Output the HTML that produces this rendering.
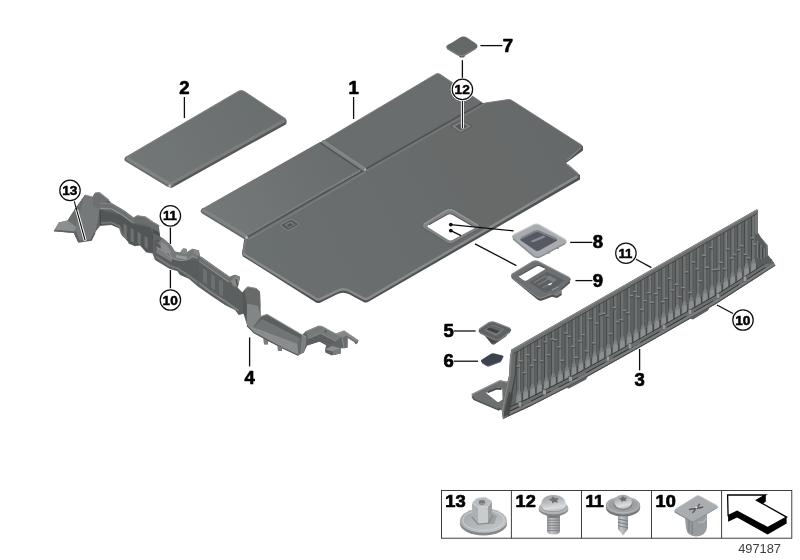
<!DOCTYPE html>
<html lang="en">
<head>
<meta charset="utf-8">
<title>Trunk floor panel parts diagram 497187</title>
<style>
html,body{margin:0;padding:0;background:#fff;}
body{width:800px;height:560px;overflow:hidden;font-family:"Liberation Sans",sans-serif;}
svg{display:block;}
.lbl{font-family:"Liberation Sans",sans-serif;font-weight:bold;font-size:18.5px;fill:#000;stroke:#000;stroke-width:0.7;stroke-linejoin:round;text-anchor:middle;}
.cl{font-family:"Liberation Sans",sans-serif;font-weight:bold;font-size:13.2px;fill:#000;stroke:#000;stroke-width:0.5;text-anchor:middle;}
.lg{font-family:"Liberation Sans",sans-serif;font-weight:bold;font-size:16.6px;fill:#000;stroke:#000;stroke-width:0.7;stroke-linejoin:round;}
.num{font-family:"Liberation Sans",sans-serif;font-size:12.8px;fill:#3c3c3c;}
.ld{stroke:#111;stroke-width:1.3;fill:none;stroke-linecap:butt;}
.circ{fill:#fff;stroke:#111;stroke-width:1.25;}
</style>
</head>
<body>
<svg width="800" height="560" viewBox="0 0 800 560">
<defs>
<filter id="soft" x="-5%" y="-5%" width="110%" height="110%"><feGaussianBlur stdDeviation="0.45"/></filter>
<filter id="soft2" x="-5%" y="-5%" width="110%" height="110%"><feGaussianBlur stdDeviation="0.3"/></filter>
<filter id="soft3" x="-5%" y="-5%" width="110%" height="110%"><feGaussianBlur stdDeviation="0.6"/></filter>
</defs>
<rect width="800" height="560" fill="#fff"/>
<!-- ===== PART 2 : small cover ===== -->
<defs>
<linearGradient id="gFlap" gradientUnits="userSpaceOnUse" x1="210" y1="215" x2="350" y2="140"><stop offset="0" stop-color="#747878"/><stop offset="1" stop-color="#686c6c"/></linearGradient>
<linearGradient id="gMain" gradientUnits="userSpaceOnUse" x1="260" y1="280" x2="560" y2="120"><stop offset="0" stop-color="#6b6f6f"/><stop offset="1" stop-color="#656969"/></linearGradient>
<linearGradient id="gP2" gradientUnits="userSpaceOnUse" x1="140" y1="170" x2="270" y2="100"><stop offset="0" stop-color="#727676"/><stop offset="1" stop-color="#6a6e6e"/></linearGradient>
</defs>
<g id="p2" filter="url(#soft)">
<path d="M125.6,158.6 L126,160 L168.5,186.4 Q170.5,188.2 172.5,187.4 L286.2,124.2 L286.8,120.5 Z" fill="#565959"/>
<path d="M238.5,91.2 Q241.3,89.8 244,91.2 L285.6,118.8 Q287.6,120.6 285.4,122 L173,184.6 Q170,186 167.4,184.4 L126.4,159.6 Q124.6,158 126.8,156.6 Z" fill="url(#gP2)"/>
<path d="M127.2,159.2 L168,184 Q170,185 172,184" fill="none" stroke="#666969" stroke-width="5.4" stroke-linejoin="round" stroke-linecap="round"/>
<path d="M127.6,158.6 L168.4,183.2 Q170,184 171.8,183.2" fill="none" stroke="#808383" stroke-width="3.6" stroke-linejoin="round" stroke-linecap="round"/>
<path d="M172.4,182.8 L284.4,120.4" fill="none" stroke="#7b7e7e" stroke-width="2.8"/>
<circle cx="169.8" cy="185.8" r="1.4" fill="#bdbfbf"/>
<path d="M126.8,156.6 L238.5,91.2 Q241.3,89.8 244,91.2 L285.6,118.8" fill="none" stroke="#7f8282" stroke-width="1"/>
</g>

<!-- ===== PART 1 : floor panel ===== -->
<g id="p1" filter="url(#soft)">
<!-- thickness / underside -->
<path d="M202,210 L202.4,211.6 L244.5,237.6 L242,254 L243,256.4 L316,302.4 Q318,303.4 320,302.8 L336.6,294.4 Q342.8,291 349.2,294.2 L364,302.2 Q366,303 368,302 L580,179.6 L580,175 L566,167 L566,163 L583,150.6 L583,146 Z" fill="#4f5252"/>
<!-- back-left flap -->
<path d="M436,74 Q438,73 440,74.2 L482,102.6 L363,170.5 L321.5,142 Z" fill="#696d6d"/>
<path d="M321.5,142 L436,74 Q438,73 440,74.2 L482,102.6" fill="none" stroke="#7a7d7d" stroke-width="0.9"/>
<!-- front-left flap -->
<path d="M319.5,142.2 Q321.5,141.2 323.5,142.4 L362.5,169.6 L246,237 L203,211 Q201,209.4 203.4,208 Z" fill="url(#gFlap)"/>
<!-- main panel -->
<path d="M485,103 L508,99.6 Q510.4,99.2 512.4,100.8 L581.6,145 Q583.6,146.6 581.4,148 L567,160.6 Q565,162.4 567,164 L578.6,174 Q580.4,176 578,177.4 L368,299.6 Q366,300.6 364,299.8 L349.2,292 Q342.8,288.6 336.6,292.4 L320,300.4 Q318,301.2 316,300 L244,255.6 Q242,254 242.4,251.6 L245,238.6 Q245.4,236.6 247.4,235.4 L482,102.8 Z" fill="url(#gMain)"/>
<!-- seam lines -->
<path d="M320.6,143 L362.2,171 L246,237.8" fill="none" stroke="#505353" stroke-width="1.5"/>
<path d="M482,102.8 L364,169.8" fill="none" stroke="#4e5151" stroke-width="1.5"/>
<path d="M323.4,141.8 L364.2,169" fill="none" stroke="#808383" stroke-width="3.4" stroke-linecap="round"/>
<path d="M323.8,140.8 L364.6,168" fill="none" stroke="#8a8d8d" stroke-width="1"/>
<circle cx="365.2" cy="169.6" r="1.2" fill="#b2b4b4"/>
<path d="M365.4,172 L248.4,239.4" fill="none" stroke="#7e8181" stroke-width="1.2"/>
<path d="M360.4,170 L245,236.4" fill="none" stroke="#7b7e7e" stroke-width="1.6"/>
<path d="M484,104.2 L367,170.8" fill="none" stroke="#797c7c" stroke-width="1.1"/>
<path d="M485,103 L508,99.6 Q510.4,99.2 512.4,100.8 L581.6,145" fill="none" stroke="#7a7d7d" stroke-width="0.9"/>
<!-- highlight on lower edges -->
<path d="M203.6,211 L245.4,236.6" fill="none" stroke="#666969" stroke-width="5.6" stroke-linecap="round"/>
<path d="M204,210.4 L245.4,235.6" fill="none" stroke="#808383" stroke-width="3.8" stroke-linecap="round"/>
<circle cx="246.6" cy="237.6" r="1.3" fill="#b9bbbb"/>
<path d="M243.4,252.6 L244.8,254.8 L316.4,299 Q318,300 320,299.2 L336.6,291.2 Q342.8,287.6 349.2,290.8 L364,298.6 Q366,299.4 367.6,298.6 L577.4,176.4" fill="none" stroke="#878a8a" stroke-width="2.4" stroke-linejoin="round"/>
<path d="M567.4,164.6 L578,173.8" fill="none" stroke="#808383" stroke-width="1.4"/>
<path d="M581,147.8 L567.2,160.2" fill="none" stroke="#7c7f7f" stroke-width="1.4"/>
<path d="M246,239 L243.4,252" fill="none" stroke="#7d8080" stroke-width="1.4"/>
<!-- cut-out -->
<path d="M446,209.6 Q450,207.6 454,209.8 L480,225 Q482.6,226.8 480,228.4 L452.6,244 Q450,245.2 447.6,243.8 L422.4,228 Q420,226.2 422.6,224.4 Z" fill="#5c5f5f"/>
<path d="M446,210.6 Q450,208.6 454,210.8 L478.6,225.4 Q481,227 478.6,228.6 L452.6,243 Q450,244.2 447.6,242.8 L423.4,227.6 Q421,226 423.6,224.2 Z" fill="#808383"/>
<path d="M423.6,224.2 L446,210.6 Q450,208.6 454,210.8 L478.6,225.4" fill="none" stroke="#999c9c" stroke-width="1.2"/>
<path d="M447,214.4 Q450,213 453,214.6 L473.6,226.4 Q475.4,227.6 473.4,228.8 L452.4,240 Q450.2,241 448,239.8 L428.4,227.4 Q426.6,226 428.8,224.8 Z" fill="#fff"/>
<path d="M428.8,224.8 L447,214.4 Q450,213 453,214.6 L473.6,226.4" fill="none" stroke="#55585a" stroke-width="1.1"/>
<!-- small latch front-left -->
<path d="M281.6,224 L289.6,219.8 Q291.6,219 293.2,220 L298,223.2 Q299.2,224.4 297.8,225.4 L289.8,230 Q288,230.8 286.6,229.8 L281.6,226.6 Q280.2,225.2 281.6,224 Z" fill="#585b5b" stroke="#878a8a" stroke-width="0.9"/>
<path d="M285,224.6 L290.6,221.8 L295,224.6 L289,228 Z" fill="#808383"/>
<path d="M286.4,225 L290.4,223 L293.4,224.8 L289.2,227 Z" fill="#505353"/>
<!-- fastener recess back -->
<path d="M450.6,126 L462,120.4 L472,126.4 L460.4,132.8 Z" fill="#7f8282" stroke="#4e5151" stroke-width="0.8"/>
<path d="M455,126.2 L462,122.8 L467.6,126.4 L460.6,130.2 Z" fill="#565959"/>
</g>

<!-- ===== PART 4 : long bracket ===== -->
<g id="p4" filter="url(#soft)">
<path d="M95.0,193.0 L99.4,192.5 L108.8,200.0 L111.9,203.8 L122.5,210.0 L133.1,218.0 L137.5,215.6 L145.0,216.9 L151.2,221.2 L158.8,225.6 L160.0,236.2 L170.0,244.4 L173.8,251.2 L180.0,252.5 L181.2,251.2 L187.5,252.0 L192.5,248.8 L198.8,250.6 L200.0,256.2 L230.0,277.5 L235.0,275.0 L240.0,277.5 L237.5,287.5 L242.5,292.5 L244.2,290.2 L247.8,286.8 L256.5,288.5 L260.0,292.0 L260.9,316.5 L267.0,314.8 L302.0,335.0 L305.5,331.6 L318.6,326.0 L322.0,326.4 L336.0,333.8 L344.0,330.8 L358.4,340.4 L357.5,343.0 L355.4,344.3 L354.5,342.0 L347.5,337.8 L347.5,347.4 L344.0,348.2 L340.5,348.2 L340.5,353.5 L331.8,355.2 L325.6,352.6 L325.2,349.6 L326.0,345.0 L319.5,341.6 L307.2,345.4 L303.8,352.4 L298.5,355.0 L282.4,347.6 L281.6,351.0 L278.0,351.0 L277.6,345.6 L268.4,341.0 L267.6,344.4 L264.0,344.2 L263.6,338.6 L254.0,332.0 L246.9,325.2 L246.4,313.0 L238.8,315.0 L235.0,310.0 L225.0,305.0 L217.5,300.0 L210.0,295.0 L197.5,286.2 L188.8,278.8 L180.0,275.0 L177.5,271.2 L169.4,268.8 L155.0,260.0 L152.5,253.5 L146.2,252.5 L140.0,245.5 L135.0,246.2 L128.8,243.8 L127.5,240.0 L122.5,236.2 L120.0,228.8 L111.2,225.0 L100.0,226.0 L95.0,232.5 L91.2,240.0 L78.1,241.9 L73.8,233.0 L53.8,231.2 L58.8,222.6 L67.6,220.6 L74.4,210.0 L85.0,195.0 L92.5,196.9 Z" fill="#626565"/>
<path d="M85,195 L92.5,196.9 L93.8,206.2 L100.4,208.4 L95,232.5 L91.2,240 L78.1,241.9 L73.8,233 L75.6,227.6 L74.4,210 Z" fill="#767979"/>
<path d="M85,195 L74.4,210 L67.6,220.6 L75.6,227.6 Z" fill="#6b6e6e"/>
<path d="M58.8,222.6 L67.6,220.6 L76.2,227 L73.8,232 L54.4,230.6 Z" fill="#8c8f8f"/>
<path d="M53.8,231.2 L73.8,233 L78.1,241.9 L80,241.6 L76,231.4 L54.4,229.8 Z" fill="#5f6262"/>
<path d="M85,195 L92.5,196.9" stroke="#8d9090" stroke-width="1"/>
<path d="M78.1,241.9 L91.2,240 L95,232.5" fill="none" stroke="#5a5d5d" stroke-width="1.6"/>
<path d="M92.5,196.9 L95,193 L99.4,192.5 L108.8,200 L106,203 L100.4,208.4 L93.8,206.2 Z" fill="#6d7070"/>
<path d="M95,193 L99.4,192.5 L108.8,200" fill="none" stroke="#8a8d8d" stroke-width="1.1"/>
<path d="M100.4,205.8 L111.9,206.4 L122.5,212.6 L133.1,220.6 L145.0,219.4 L151.2,223.8 L158.2,228.0" fill="none" stroke="#6e7171" stroke-width="5.6" stroke-linejoin="round"/>
<path d="M100.4,203.2 L111.9,203.8 L122.5,210.0 L133.1,218.0 L145.0,216.8 L151.2,221.2 L158.2,225.4" fill="none" stroke="#858888" stroke-width="0.9"/>
<path d="M100.4,208.4 L111.9,209.0 L122.5,215.2 L133.1,223.2" fill="none" stroke="#939696" stroke-width="1.1"/>
<path d="M133.1,218 L137.5,215.6 L145,216.9 L151.2,221.2 L158.8,225.6 L159.2,232 L152,228.6 L146,224.4 L137,223.4 Z" fill="#6a6d6d"/>
<path d="M133.1,218 L137.5,215.6 L145,216.9 L151.2,221.2 L158.8,225.6" fill="none" stroke="#8c8f8f" stroke-width="1"/>
<path d="M152.4,229 L159.4,232.6 L160,236.2 L153,233 Z" fill="#4d5050"/>
<path d="M100,210 L120,214.4 L133,223.6 L150,227.4 L153,233 L153.4,252 L146.2,251.6 L140,244.6 L135,245.2 L128.8,242.8 L122.5,235.2 L120,228 L111.2,224.2 L100.6,225 Z" fill="#535656"/>
<path d="M123.6,224.0 l3.2,1.8 l0,12.0 l-3.2,-1.8 Z" fill="#6f7272"/>
<path d="M130.6,228.0 l3.2,1.8 l0,13.0 l-3.2,-1.8 Z" fill="#6f7272"/>
<path d="M137.6,232.0 l3.2,1.8 l0,11.0 l-3.2,-1.8 Z" fill="#6f7272"/>
<path d="M144.6,236.0 l3.2,1.8 l0,11.0 l-3.2,-1.8 Z" fill="#6f7272"/>
<path d="M100,210 L100.4,225" stroke="#474a4a" stroke-width="1.4"/>
<path d="M154.4,240 L161,240 L170,248 L176,257 L186,260 L199,261 L199,285 L188.8,278 L180,274.2 L177.5,270.4 L169.4,268 L156,259.6 Z" fill="#595c5c"/>
<path d="M160.2,240.6 L169.0,248.6 L173.0,255.2 L180.0,257.0 L187.5,256.2 L192.5,253.0 L198.4,254.6" fill="none" stroke="#777a7a" stroke-width="7.4" stroke-linejoin="round"/>
<path d="M159.8,244.2 L168.6,252.2 L172.6,258.8 L179.6,260.6 L187.1,259.8 L192.1,256.6 L198.0,258.2" fill="none" stroke="#8f9292" stroke-width="1"/>
<path d="M156.4,247 L164,251.6 L172,259.4 L171.4,262 L156.4,253 Z" fill="#7b7e7e"/>
<path d="M156.4,247 L164,251.6 L172,259.4" fill="none" stroke="#9a9d9d" stroke-width="0.9"/>
<path d="M161.4,241.4 L167,245.4 L171.6,252.2 L166,254 L160.6,249 Z" fill="#8a8d8d"/>
<path d="M176,255 L186.6,256.6 L186.6,259.4 L176,257.8 Z" fill="#979a9a"/>
<path d="M181,250.4 L183.6,248 L187,249 L187,254 L181.4,253.4 Z" fill="#858888"/>
<path d="M199.6,258.8 L214.0,269.0 L229.4,279.8 L235.0,277.6 L239.0,279.4" fill="none" stroke="#6f7272" stroke-width="5.6" stroke-linejoin="round"/>
<path d="M199.4,261.6 L214.0,271.8 L228.6,282.0" fill="none" stroke="#8f9292" stroke-width="1.1"/>
<path d="M199.4,256.4 L229.8,277.4" fill="none" stroke="#909393" stroke-width="0.9"/>
<path d="M199.6,262 L214,272.2 L228,282.2 L236,284 L237.5,288 L242.5,293 L246.4,313 L238.8,314.4 L235,309.4 L225,304.4 L217.5,299.4 L210,294.4 L199,286 Z" fill="#5b5e5e"/>
<path d="M203.0,268.0 l4,2.8 l0,14.0 l-4,-2.8 Z" fill="#6c6f6f"/>
<path d="M211.0,273.6 l4,2.8 l0,14.0 l-4,-2.8 Z" fill="#6c6f6f"/>
<path d="M219.0,279.0 l4,2.8 l0,15.0 l-4,-2.8 Z" fill="#6c6f6f"/>
<path d="M199,283 L210,291.4 L225,301.2 L238.4,310.6" fill="none" stroke="#7c7f7f" stroke-width="2.2"/>
<path d="M156,256.6 L169.4,265.6 L177.5,268.4 L188.6,275.6 L198,282.6" fill="none" stroke="#767979" stroke-width="2"/>
<path d="M101,223.2 L111.2,222.4 L119.4,226.2 L121.8,234 L127,239" fill="none" stroke="#747777" stroke-width="1.8"/>
<path d="M192.5,248.8 L198.8,250.6 L200,256.2 L195,254 Z" fill="#868989"/>
<path d="M231,281 L235.4,275.4 L240,277.8 L238,287 L233,286 Z" fill="#858888"/>
<path d="M236,279 L237.6,286" stroke="#4a4d4d" stroke-width="1.2"/>
<path d="M244.2,290.2 L247.8,286.8 L256.5,288.5 L260,292 L260.4,306.6 L246.9,303.4 Z" fill="#686b6b"/>
<path d="M244.2,290.2 L247.8,286.8 L256.5,288.5 L260,292" fill="none" stroke="#8e9191" stroke-width="1"/>
<path d="M246.9,303.4 L258.2,306 L260.9,316.5 L253,327 L246.9,324.6 Z" fill="#838686"/>
<path d="M244.2,290.2 L246.9,303.4 L246.9,324.6 L243,312 L242.5,292.5 Z" fill="#555858"/>
<path d="M260.9,316.5 L267,314.4 L302,334.9 L300.2,338.6 L262.6,319.2 Z" fill="#5c5f5f"/>
<path d="M260.9,316.5 L267,314.4 L302,334.9" fill="none" stroke="#8b8e8e" stroke-width="1.1"/>
<path d="M253.4,327.2 L262.6,319.2 L300.2,338.6 L297.6,343.8 Z" fill="#717474"/>
<path d="M246.9,324.6 L253.4,327.2 L297.6,343.8 L298.5,355 L282.4,347.6 L254,332.4 Z" fill="#8a8d8d"/>
<path d="M246.9,325.6 L254,332.8 L282.4,348 L298.5,355.4" fill="none" stroke="#565959" stroke-width="1.2"/>
<path d="M297.6,343.8 L300.2,338.6 L302,334.9 L307.2,337.5 L303.8,352.4 L298.5,355 Z" fill="#686b6b"/>
<path d="M302,335.2 L307.2,337.8 L303.8,352.4 L300.4,353.8 Z" fill="#7d8080"/>
<path d="M302,334.9 L307.2,337.5" stroke="#949797" stroke-width="1"/>
<path d="M263.6,338.6 L267.8,340.8 L267.6,344.4 L264,344.2 Z" fill="#7a7d7d"/><path d="M277.6,345.6 L282.2,347.8 L281.6,351 L278,351 Z" fill="#7a7d7d"/>
<path d="M305.5,331.6 L318.6,326 L322,326.4 L341.4,336.9 L336,341.4 L326,345 L319.5,341.6 L307.2,345.4 Z" fill="#5b5e5e"/>
<path d="M305.5,331.6 L318.6,326 L322,326.4 L341.4,336.9 L336,341.4 L320.6,333.4 L308,338.6 Z" fill="#777a7a"/>
<path d="M305.5,331.6 L318.6,326 L322,326.4 L341.4,336.9" fill="none" stroke="#949797" stroke-width="1"/>
<path d="M308,338.6 L320.6,333.4 L336,341.4" fill="none" stroke="#8a8d8d" stroke-width="0.9"/>
<circle cx="325.6" cy="331.4" r="0.9" fill="#4a4d4d"/>
<path d="M325.2,349.6 L332,346 L340.5,348.2 L340.5,353.5 L331.8,355.2 L325.6,352.6 Z" fill="#5f6262"/>
<path d="M325.2,349.6 L332,346 L340.5,348.2 L333,351.4 Z" fill="#8c8f8f"/>
<path d="M333,351.4 L340.5,348.2 L340.5,353.5 L333,355 Z" fill="#7a7d7d"/>
<path d="M336,333.8 L344,330.8 L358.4,340.4 L357.5,343 L355.4,344.3 L354.5,342 L347.5,337.8 L347.5,347.4 L344,348.2 L342.2,337.4 Z" fill="#6a6d6d"/>
<path d="M336,333.8 L344,330.8 L358.4,340.4 L356,341.6 L346,335.4 L342.2,337.4 Z" fill="#858888"/>
<path d="M336,333.8 L344,330.8 L358.4,340.4" fill="none" stroke="#9a9d9d" stroke-width="0.9"/>
<path d="M342.2,337.4 L344,348.2" stroke="#8d9090" stroke-width="0.9"/>
</g>
<g id="p3" filter="url(#soft)">
<path d="M471.6,394.6 L500,380.6 L512,383 L508,412 L498.6,409.6 L474,399.2 Z" fill="#6c6f6f"/>
<path d="M471.6,394.6 L500,380.6 L508,382.4" fill="none" stroke="#8a8d8d" stroke-width="1.2"/>
<path d="M472,396.4 L474,399.4 L498.6,409.8 L500,408" fill="none" stroke="#4c4f4f" stroke-width="1.4"/>
<path d="M486.8,392 Q485.6,393 487,393.8 L496.8,401.6 Q498.4,402.4 499.6,401.4 L502.6,399.6 L502.2,388.6 Q500,387.4 496.6,388 Z" fill="#fff"/>
<path d="M487.4,392.4 L496.6,388.6 L501.6,389" fill="none" stroke="#45484a" stroke-width="1.8"/>
<clipPath id="c3"><path d="M511.5,349.5 L757.0,209.2 L757.8,210.0 L757.8,232.5 L761.2,238.0 L767.5,245.0 L768.0,255.0 L772.0,260.0 L775.5,265.6 L716.0,304.0 L638.0,348.6 L578.0,382.0 L530.0,406.5 L503.0,419.0 L501.8,410.0 L505.5,390.0 L509.2,375.0 L510.0,357.0 L511.5,349.5 Z"/></clipPath>
<path d="M511.5,349.5 L757.0,209.2 L757.8,210.0 L757.8,232.5 L761.2,238.0 L767.5,245.0 L768.0,255.0 L772.0,260.0 L775.5,265.6 L716.0,304.0 L638.0,348.6 L578.0,382.0 L530.0,406.5 L503.0,419.0 L501.8,410.0 L505.5,390.0 L509.2,375.0 L510.0,357.0 L511.5,349.5 Z" fill="#5f6262"/>
<g clip-path="url(#c3)">
<rect x="516.4" y="349.7" width="1" height="52.1" fill="#474a4a"/>
<rect x="517.4" y="349.7" width="1.9" height="52.1" fill="#6c6f6f"/>
<rect x="519.1" y="349.7" width="0.9" height="50.1" fill="#7b7e7e"/>
<rect x="520.0" y="349.7" width="0.8" height="48.1" fill="#525555"/>
<rect x="516.0" y="365.4" width="3.4" height="1.5" fill="#858888"/>
<rect x="516.0" y="366.9" width="3.4" height="1.2" fill="#4a4d4d"/>
<rect x="519.2" y="360.2" width="3.4" height="1.5" fill="#858888"/>
<rect x="519.2" y="361.7" width="3.4" height="1.2" fill="#4a4d4d"/>
<path d="M516.0,404.4 L516.2,396.6 Q516.8,390.6 518.8,389.6 Q520.8,390.6 521.4,395.6 L521.6,401.4 Z" fill="#7a7d7d"/>
<path d="M516.6,404.2 L516.6,399.1 Q516.8,395.0 519.0,394.4 Q521.2,394.0 521.2,397.2 L521.2,401.6 Z" fill="#8c8f8f"/>
<path d="M522.2,393.6 L522.2,401.6" stroke="#474a4a" stroke-width="1.2"/>
<rect x="523.3" y="345.8" width="1" height="52.8" fill="#474a4a"/>
<rect x="524.3" y="345.8" width="1.9" height="52.8" fill="#6c6f6f"/>
<rect x="526.0" y="345.8" width="0.9" height="50.8" fill="#7b7e7e"/>
<rect x="526.9" y="345.8" width="0.8" height="48.8" fill="#525555"/>
<rect x="522.9" y="371.8" width="3.4" height="1.5" fill="#858888"/>
<rect x="522.9" y="373.3" width="3.4" height="1.2" fill="#4a4d4d"/>
<rect x="526.1" y="354.0" width="3.4" height="1.5" fill="#858888"/>
<rect x="526.1" y="355.5" width="3.4" height="1.2" fill="#4a4d4d"/>
<path d="M522.9,401.2 L523.1,393.4 Q523.7,387.4 525.7,386.4 Q527.7,387.4 528.3,392.4 L528.5,398.2 Z" fill="#7a7d7d"/>
<path d="M523.5,401.0 L523.5,395.9 Q523.7,391.8 525.9,391.2 Q528.1,390.8 528.1,394.0 L528.1,398.4 Z" fill="#8c8f8f"/>
<path d="M529.1,390.4 L529.1,398.4" stroke="#474a4a" stroke-width="1.2"/>
<rect x="530.2" y="341.8" width="1" height="53.6" fill="#474a4a"/>
<rect x="531.2" y="341.8" width="1.9" height="53.6" fill="#6c6f6f"/>
<rect x="532.9" y="341.8" width="0.9" height="51.6" fill="#7b7e7e"/>
<rect x="533.8" y="341.8" width="0.8" height="49.6" fill="#525555"/>
<rect x="529.8" y="364.7" width="3.4" height="1.5" fill="#858888"/>
<rect x="529.8" y="366.2" width="3.4" height="1.2" fill="#4a4d4d"/>
<rect x="533.0" y="359.4" width="3.4" height="1.5" fill="#858888"/>
<rect x="533.0" y="360.9" width="3.4" height="1.2" fill="#4a4d4d"/>
<path d="M529.8,398.0 L530.0,390.2 Q530.6,384.2 532.6,383.2 Q534.6,384.2 535.2,389.2 L535.4,395.0 Z" fill="#7a7d7d"/>
<path d="M530.4,397.8 L530.4,392.7 Q530.6,388.6 532.8,388.0 Q535.0,387.6 535.0,390.8 L535.0,395.2 Z" fill="#8c8f8f"/>
<path d="M536.0,387.2 L536.0,395.2" stroke="#474a4a" stroke-width="1.2"/>
<rect x="537.1" y="337.9" width="1" height="54.0" fill="#474a4a"/>
<rect x="538.1" y="337.9" width="1.9" height="54.0" fill="#6c6f6f"/>
<rect x="539.8" y="337.9" width="0.9" height="52.0" fill="#7b7e7e"/>
<rect x="540.7" y="337.9" width="0.8" height="50.0" fill="#525555"/>
<rect x="536.7" y="345.7" width="3.4" height="1.5" fill="#858888"/>
<rect x="536.7" y="347.2" width="3.4" height="1.2" fill="#4a4d4d"/>
<rect x="539.9" y="360.1" width="3.4" height="1.5" fill="#858888"/>
<rect x="539.9" y="361.6" width="3.4" height="1.2" fill="#4a4d4d"/>
<path d="M536.7,394.5 L536.9,386.7 Q537.5,380.7 539.5,379.7 Q541.5,380.7 542.1,385.7 L542.3,391.5 Z" fill="#7a7d7d"/>
<path d="M537.3,394.3 L537.3,389.2 Q537.5,385.1 539.7,384.5 Q541.9,384.1 541.9,387.3 L541.9,391.7 Z" fill="#8c8f8f"/>
<path d="M542.9,383.7 L542.9,391.7" stroke="#474a4a" stroke-width="1.2"/>
<rect x="544.0" y="333.9" width="1" height="54.4" fill="#474a4a"/>
<rect x="545.0" y="333.9" width="1.9" height="54.4" fill="#6c6f6f"/>
<rect x="546.7" y="333.9" width="0.9" height="52.4" fill="#7b7e7e"/>
<rect x="547.6" y="333.9" width="0.8" height="50.4" fill="#525555"/>
<rect x="543.6" y="341.1" width="3.4" height="1.5" fill="#858888"/>
<rect x="543.6" y="342.6" width="3.4" height="1.2" fill="#4a4d4d"/>
<rect x="546.8" y="354.0" width="3.4" height="1.5" fill="#858888"/>
<rect x="546.8" y="355.5" width="3.4" height="1.2" fill="#4a4d4d"/>
<path d="M543.6,391.0 L543.8,383.2 Q544.4,377.2 546.4,376.2 Q548.4,377.2 549.0,382.2 L549.2,388.0 Z" fill="#7a7d7d"/>
<path d="M544.2,390.8 L544.2,385.7 Q544.4,381.6 546.6,381.0 Q548.8,380.6 548.8,383.8 L548.8,388.2 Z" fill="#8c8f8f"/>
<path d="M549.8,380.2 L549.8,388.2" stroke="#474a4a" stroke-width="1.2"/>
<rect x="550.9" y="330.0" width="1" height="54.8" fill="#474a4a"/>
<rect x="551.9" y="330.0" width="1.9" height="54.8" fill="#6c6f6f"/>
<rect x="553.6" y="330.0" width="0.9" height="52.8" fill="#7b7e7e"/>
<rect x="554.5" y="330.0" width="0.8" height="50.8" fill="#525555"/>
<rect x="550.5" y="338.3" width="3.4" height="1.5" fill="#858888"/>
<rect x="550.5" y="339.8" width="3.4" height="1.2" fill="#4a4d4d"/>
<rect x="553.7" y="339.0" width="3.4" height="1.5" fill="#858888"/>
<rect x="553.7" y="340.5" width="3.4" height="1.2" fill="#4a4d4d"/>
<path d="M550.5,387.4 L550.7,379.6 Q551.3,373.6 553.3,372.6 Q555.3,373.6 555.9,378.6 L556.1,384.4 Z" fill="#7a7d7d"/>
<path d="M551.1,387.2 L551.1,382.1 Q551.3,378.0 553.5,377.4 Q555.7,377.0 555.7,380.2 L555.7,384.6 Z" fill="#8c8f8f"/>
<path d="M556.7,376.6 L556.7,384.6" stroke="#474a4a" stroke-width="1.2"/>
<rect x="557.8" y="326.0" width="1" height="55.3" fill="#474a4a"/>
<rect x="558.8" y="326.0" width="1.9" height="55.3" fill="#6c6f6f"/>
<rect x="560.5" y="326.0" width="0.9" height="53.3" fill="#7b7e7e"/>
<rect x="561.4" y="326.0" width="0.8" height="51.3" fill="#525555"/>
<rect x="557.4" y="346.2" width="3.4" height="1.5" fill="#858888"/>
<rect x="557.4" y="347.7" width="3.4" height="1.2" fill="#4a4d4d"/>
<rect x="560.6" y="359.5" width="3.4" height="1.5" fill="#858888"/>
<rect x="560.6" y="361.0" width="3.4" height="1.2" fill="#4a4d4d"/>
<path d="M557.4,383.9 L557.6,376.1 Q558.2,370.1 560.2,369.1 Q562.2,370.1 562.8,375.1 L563.0,380.9 Z" fill="#7a7d7d"/>
<path d="M558.0,383.7 L558.0,378.6 Q558.2,374.5 560.4,373.9 Q562.6,373.5 562.6,376.7 L562.6,381.1 Z" fill="#8c8f8f"/>
<path d="M563.6,373.1 L563.6,381.1" stroke="#474a4a" stroke-width="1.2"/>
<rect x="564.7" y="322.1" width="1" height="55.7" fill="#474a4a"/>
<rect x="565.7" y="322.1" width="1.9" height="55.7" fill="#6c6f6f"/>
<rect x="567.4" y="322.1" width="0.9" height="53.7" fill="#7b7e7e"/>
<rect x="568.3" y="322.1" width="0.8" height="51.7" fill="#525555"/>
<rect x="564.3" y="332.3" width="3.4" height="1.5" fill="#858888"/>
<rect x="564.3" y="333.8" width="3.4" height="1.2" fill="#4a4d4d"/>
<rect x="567.5" y="335.6" width="3.4" height="1.5" fill="#858888"/>
<rect x="567.5" y="337.1" width="3.4" height="1.2" fill="#4a4d4d"/>
<path d="M564.3,380.4 L564.5,372.6 Q565.1,366.6 567.1,365.6 Q569.1,366.6 569.7,371.6 L569.9,377.4 Z" fill="#7a7d7d"/>
<path d="M564.9,380.2 L564.9,375.1 Q565.1,371.0 567.3,370.4 Q569.5,370.0 569.5,373.2 L569.5,377.6 Z" fill="#8c8f8f"/>
<path d="M570.5,369.6 L570.5,377.6" stroke="#474a4a" stroke-width="1.2"/>
<rect x="571.6" y="318.2" width="1" height="56.1" fill="#474a4a"/>
<rect x="572.6" y="318.2" width="1.9" height="56.1" fill="#6c6f6f"/>
<rect x="574.3" y="318.2" width="0.9" height="54.1" fill="#7b7e7e"/>
<rect x="575.2" y="318.2" width="0.8" height="52.1" fill="#525555"/>
<rect x="571.2" y="345.6" width="3.4" height="1.5" fill="#858888"/>
<rect x="571.2" y="347.1" width="3.4" height="1.2" fill="#4a4d4d"/>
<rect x="574.4" y="356.5" width="3.4" height="1.5" fill="#858888"/>
<rect x="574.4" y="358.0" width="3.4" height="1.2" fill="#4a4d4d"/>
<path d="M571.2,376.9 L571.4,369.1 Q572.0,363.1 574.0,362.1 Q576.0,363.1 576.6,368.1 L576.8,373.9 Z" fill="#7a7d7d"/>
<path d="M571.8,376.7 L571.8,371.6 Q572.0,367.5 574.2,366.9 Q576.4,366.5 576.4,369.7 L576.4,374.1 Z" fill="#8c8f8f"/>
<path d="M577.4,366.1 L577.4,374.1" stroke="#474a4a" stroke-width="1.2"/>
<rect x="578.5" y="314.2" width="1" height="56.5" fill="#474a4a"/>
<rect x="579.5" y="314.2" width="1.9" height="56.5" fill="#6c6f6f"/>
<rect x="581.2" y="314.2" width="0.9" height="54.5" fill="#7b7e7e"/>
<rect x="582.1" y="314.2" width="0.8" height="52.5" fill="#525555"/>
<rect x="578.1" y="340.1" width="3.4" height="1.5" fill="#858888"/>
<rect x="578.1" y="341.6" width="3.4" height="1.2" fill="#4a4d4d"/>
<rect x="581.3" y="333.9" width="3.4" height="1.5" fill="#858888"/>
<rect x="581.3" y="335.4" width="3.4" height="1.2" fill="#4a4d4d"/>
<path d="M578.1,373.3 L578.3,365.5 Q578.9,359.5 580.9,358.5 Q582.9,359.5 583.5,364.5 L583.7,370.3 Z" fill="#7a7d7d"/>
<path d="M578.7,373.1 L578.7,368.0 Q578.9,363.9 581.1,363.3 Q583.3,362.9 583.3,366.1 L583.3,370.5 Z" fill="#8c8f8f"/>
<path d="M584.3,362.5 L584.3,370.5" stroke="#474a4a" stroke-width="1.2"/>
<rect x="585.4" y="310.3" width="1" height="56.6" fill="#474a4a"/>
<rect x="586.4" y="310.3" width="1.9" height="56.6" fill="#6c6f6f"/>
<rect x="588.1" y="310.3" width="0.9" height="54.6" fill="#7b7e7e"/>
<rect x="589.0" y="310.3" width="0.8" height="52.6" fill="#525555"/>
<rect x="585.0" y="350.1" width="3.4" height="1.5" fill="#858888"/>
<rect x="585.0" y="351.6" width="3.4" height="1.2" fill="#4a4d4d"/>
<rect x="588.2" y="317.9" width="3.4" height="1.5" fill="#858888"/>
<rect x="588.2" y="319.4" width="3.4" height="1.2" fill="#4a4d4d"/>
<path d="M585.0,369.5 L585.2,361.7 Q585.8,355.7 587.8,354.7 Q589.8,355.7 590.4,360.7 L590.6,366.5 Z" fill="#7a7d7d"/>
<path d="M585.6,369.3 L585.6,364.2 Q585.8,360.1 588.0,359.5 Q590.2,359.1 590.2,362.3 L590.2,366.7 Z" fill="#8c8f8f"/>
<path d="M591.2,358.7 L591.2,366.7" stroke="#474a4a" stroke-width="1.2"/>
<rect x="592.3" y="306.3" width="1" height="56.7" fill="#474a4a"/>
<rect x="593.3" y="306.3" width="1.9" height="56.7" fill="#6c6f6f"/>
<rect x="595.0" y="306.3" width="0.9" height="54.7" fill="#7b7e7e"/>
<rect x="595.9" y="306.3" width="0.8" height="52.7" fill="#525555"/>
<rect x="591.9" y="342.1" width="3.4" height="1.5" fill="#858888"/>
<rect x="591.9" y="343.6" width="3.4" height="1.2" fill="#4a4d4d"/>
<rect x="595.1" y="322.4" width="3.4" height="1.5" fill="#858888"/>
<rect x="595.1" y="323.9" width="3.4" height="1.2" fill="#4a4d4d"/>
<path d="M591.9,365.6 L592.1,357.8 Q592.7,351.8 594.7,350.8 Q596.7,351.8 597.3,356.8 L597.5,362.6 Z" fill="#7a7d7d"/>
<path d="M592.5,365.4 L592.5,360.3 Q592.7,356.2 594.9,355.6 Q597.1,355.2 597.1,358.4 L597.1,362.8 Z" fill="#8c8f8f"/>
<path d="M598.1,354.8 L598.1,362.8" stroke="#474a4a" stroke-width="1.2"/>
<rect x="599.2" y="302.4" width="1" height="56.8" fill="#474a4a"/>
<rect x="600.2" y="302.4" width="1.9" height="56.8" fill="#6c6f6f"/>
<rect x="601.9" y="302.4" width="0.9" height="54.8" fill="#7b7e7e"/>
<rect x="602.8" y="302.4" width="0.8" height="52.8" fill="#525555"/>
<rect x="598.8" y="313.4" width="3.4" height="1.5" fill="#858888"/>
<rect x="598.8" y="314.9" width="3.4" height="1.2" fill="#4a4d4d"/>
<rect x="602.0" y="312.5" width="3.4" height="1.5" fill="#858888"/>
<rect x="602.0" y="314.0" width="3.4" height="1.2" fill="#4a4d4d"/>
<path d="M598.8,361.8 L599.0,354.0 Q599.6,348.0 601.6,347.0 Q603.6,348.0 604.2,353.0 L604.4,358.8 Z" fill="#7a7d7d"/>
<path d="M599.4,361.6 L599.4,356.5 Q599.6,352.4 601.8,351.8 Q604.0,351.4 604.0,354.6 L604.0,359.0 Z" fill="#8c8f8f"/>
<path d="M605.0,351.0 L605.0,359.0" stroke="#474a4a" stroke-width="1.2"/>
<rect x="606.1" y="298.4" width="1" height="56.9" fill="#474a4a"/>
<rect x="607.1" y="298.4" width="1.9" height="56.9" fill="#6c6f6f"/>
<rect x="608.8" y="298.4" width="0.9" height="54.9" fill="#7b7e7e"/>
<rect x="609.7" y="298.4" width="0.8" height="52.9" fill="#525555"/>
<rect x="605.7" y="315.2" width="3.4" height="1.5" fill="#858888"/>
<rect x="605.7" y="316.7" width="3.4" height="1.2" fill="#4a4d4d"/>
<rect x="608.9" y="332.9" width="3.4" height="1.5" fill="#858888"/>
<rect x="608.9" y="334.4" width="3.4" height="1.2" fill="#4a4d4d"/>
<path d="M605.7,358.0 L605.9,350.2 Q606.5,344.2 608.5,343.2 Q610.5,344.2 611.1,349.2 L611.3,355.0 Z" fill="#7a7d7d"/>
<path d="M606.3,357.8 L606.3,352.7 Q606.5,348.6 608.7,348.0 Q610.9,347.6 610.9,350.8 L610.9,355.2 Z" fill="#8c8f8f"/>
<path d="M611.9,347.2 L611.9,355.2" stroke="#474a4a" stroke-width="1.2"/>
<rect x="613.0" y="294.5" width="1" height="57.0" fill="#474a4a"/>
<rect x="614.0" y="294.5" width="1.9" height="57.0" fill="#6c6f6f"/>
<rect x="615.7" y="294.5" width="0.9" height="55.0" fill="#7b7e7e"/>
<rect x="616.6" y="294.5" width="0.8" height="53.0" fill="#525555"/>
<rect x="612.6" y="306.8" width="3.4" height="1.5" fill="#858888"/>
<rect x="612.6" y="308.3" width="3.4" height="1.2" fill="#4a4d4d"/>
<rect x="615.8" y="320.9" width="3.4" height="1.5" fill="#858888"/>
<rect x="615.8" y="322.4" width="3.4" height="1.2" fill="#4a4d4d"/>
<path d="M612.6,354.1 L612.8,346.3 Q613.4,340.3 615.4,339.3 Q617.4,340.3 618.0,345.3 L618.2,351.1 Z" fill="#7a7d7d"/>
<path d="M613.2,353.9 L613.2,348.8 Q613.4,344.7 615.6,344.1 Q617.8,343.7 617.8,346.9 L617.8,351.3 Z" fill="#8c8f8f"/>
<path d="M618.8,343.3 L618.8,351.3" stroke="#474a4a" stroke-width="1.2"/>
<rect x="619.9" y="290.6" width="1" height="57.1" fill="#474a4a"/>
<rect x="620.9" y="290.6" width="1.9" height="57.1" fill="#6c6f6f"/>
<rect x="622.6" y="290.6" width="0.9" height="55.1" fill="#7b7e7e"/>
<rect x="623.5" y="290.6" width="0.8" height="53.1" fill="#525555"/>
<rect x="619.5" y="319.0" width="3.4" height="1.5" fill="#858888"/>
<rect x="619.5" y="320.5" width="3.4" height="1.2" fill="#4a4d4d"/>
<rect x="622.7" y="309.6" width="3.4" height="1.5" fill="#858888"/>
<rect x="622.7" y="311.1" width="3.4" height="1.2" fill="#4a4d4d"/>
<path d="M619.5,350.3 L619.7,342.5 Q620.3,336.5 622.3,335.5 Q624.3,336.5 624.9,341.5 L625.1,347.3 Z" fill="#7a7d7d"/>
<path d="M620.1,350.1 L620.1,345.0 Q620.3,340.9 622.5,340.3 Q624.7,339.9 624.7,343.1 L624.7,347.5 Z" fill="#8c8f8f"/>
<path d="M625.7,339.5 L625.7,347.5" stroke="#474a4a" stroke-width="1.2"/>
<rect x="626.8" y="286.6" width="1" height="57.2" fill="#474a4a"/>
<rect x="627.8" y="286.6" width="1.9" height="57.2" fill="#6c6f6f"/>
<rect x="629.5" y="286.6" width="0.9" height="55.2" fill="#7b7e7e"/>
<rect x="630.4" y="286.6" width="0.8" height="53.2" fill="#525555"/>
<rect x="626.4" y="311.9" width="3.4" height="1.5" fill="#858888"/>
<rect x="626.4" y="313.4" width="3.4" height="1.2" fill="#4a4d4d"/>
<rect x="629.6" y="294.8" width="3.4" height="1.5" fill="#858888"/>
<rect x="629.6" y="296.3" width="3.4" height="1.2" fill="#4a4d4d"/>
<path d="M626.4,346.4 L626.6,338.6 Q627.2,332.6 629.2,331.6 Q631.2,332.6 631.8,337.6 L632.0,343.4 Z" fill="#7a7d7d"/>
<path d="M627.0,346.2 L627.0,341.1 Q627.2,337.0 629.4,336.4 Q631.6,336.0 631.6,339.2 L631.6,343.6 Z" fill="#8c8f8f"/>
<path d="M632.6,335.6 L632.6,343.6" stroke="#474a4a" stroke-width="1.2"/>
<rect x="633.7" y="282.7" width="1" height="57.3" fill="#474a4a"/>
<rect x="634.7" y="282.7" width="1.9" height="57.3" fill="#6c6f6f"/>
<rect x="636.4" y="282.7" width="0.9" height="55.3" fill="#7b7e7e"/>
<rect x="637.3" y="282.7" width="0.8" height="53.3" fill="#525555"/>
<rect x="633.3" y="290.8" width="3.4" height="1.5" fill="#858888"/>
<rect x="633.3" y="292.3" width="3.4" height="1.2" fill="#4a4d4d"/>
<rect x="636.5" y="295.9" width="3.4" height="1.5" fill="#858888"/>
<rect x="636.5" y="297.4" width="3.4" height="1.2" fill="#4a4d4d"/>
<path d="M633.3,342.6 L633.5,334.8 Q634.1,328.8 636.1,327.8 Q638.1,328.8 638.7,333.8 L638.9,339.6 Z" fill="#7a7d7d"/>
<path d="M633.9,342.4 L633.9,337.3 Q634.1,333.2 636.3,332.6 Q638.5,332.2 638.5,335.4 L638.5,339.8 Z" fill="#8c8f8f"/>
<path d="M639.5,331.8 L639.5,339.8" stroke="#474a4a" stroke-width="1.2"/>
<rect x="640.6" y="278.7" width="1" height="57.4" fill="#474a4a"/>
<rect x="641.6" y="278.7" width="1.9" height="57.4" fill="#6c6f6f"/>
<rect x="643.3" y="278.7" width="0.9" height="55.4" fill="#7b7e7e"/>
<rect x="644.2" y="278.7" width="0.8" height="53.4" fill="#525555"/>
<rect x="640.2" y="308.8" width="3.4" height="1.5" fill="#858888"/>
<rect x="640.2" y="310.3" width="3.4" height="1.2" fill="#4a4d4d"/>
<rect x="643.4" y="299.9" width="3.4" height="1.5" fill="#858888"/>
<rect x="643.4" y="301.4" width="3.4" height="1.2" fill="#4a4d4d"/>
<path d="M640.2,338.7 L640.4,330.9 Q641.0,324.9 643.0,323.9 Q645.0,324.9 645.6,329.9 L645.8,335.7 Z" fill="#7a7d7d"/>
<path d="M640.8,338.5 L640.8,333.4 Q641.0,329.3 643.2,328.7 Q645.4,328.3 645.4,331.5 L645.4,335.9 Z" fill="#8c8f8f"/>
<path d="M646.4,327.9 L646.4,335.9" stroke="#474a4a" stroke-width="1.2"/>
<rect x="647.5" y="274.8" width="1" height="57.4" fill="#474a4a"/>
<rect x="648.5" y="274.8" width="1.9" height="57.4" fill="#6c6f6f"/>
<rect x="650.2" y="274.8" width="0.9" height="55.4" fill="#7b7e7e"/>
<rect x="651.1" y="274.8" width="0.8" height="53.4" fill="#525555"/>
<rect x="647.1" y="291.9" width="3.4" height="1.5" fill="#858888"/>
<rect x="647.1" y="293.4" width="3.4" height="1.2" fill="#4a4d4d"/>
<rect x="650.3" y="301.5" width="3.4" height="1.5" fill="#858888"/>
<rect x="650.3" y="303.0" width="3.4" height="1.2" fill="#4a4d4d"/>
<path d="M647.1,334.8 L647.3,327.0 Q647.9,321.0 649.9,320.0 Q651.9,321.0 652.5,326.0 L652.7,331.8 Z" fill="#7a7d7d"/>
<path d="M647.7,334.6 L647.7,329.5 Q647.9,325.4 650.1,324.8 Q652.3,324.4 652.3,327.6 L652.3,332.0 Z" fill="#8c8f8f"/>
<path d="M653.3,324.0 L653.3,332.0" stroke="#474a4a" stroke-width="1.2"/>
<rect x="654.4" y="270.8" width="1" height="57.4" fill="#474a4a"/>
<rect x="655.4" y="270.8" width="1.9" height="57.4" fill="#6c6f6f"/>
<rect x="657.1" y="270.8" width="0.9" height="55.4" fill="#7b7e7e"/>
<rect x="658.0" y="270.8" width="0.8" height="53.4" fill="#525555"/>
<rect x="654.0" y="292.9" width="3.4" height="1.5" fill="#858888"/>
<rect x="654.0" y="294.4" width="3.4" height="1.2" fill="#4a4d4d"/>
<rect x="657.2" y="287.4" width="3.4" height="1.5" fill="#858888"/>
<rect x="657.2" y="288.9" width="3.4" height="1.2" fill="#4a4d4d"/>
<path d="M654.0,330.8 L654.2,323.0 Q654.8,317.0 656.8,316.0 Q658.8,317.0 659.4,322.0 L659.6,327.8 Z" fill="#7a7d7d"/>
<path d="M654.6,330.6 L654.6,325.5 Q654.8,321.4 657.0,320.8 Q659.2,320.4 659.2,323.6 L659.2,328.0 Z" fill="#8c8f8f"/>
<path d="M660.2,320.0 L660.2,328.0" stroke="#474a4a" stroke-width="1.2"/>
<rect x="661.3" y="266.9" width="1" height="57.4" fill="#474a4a"/>
<rect x="662.3" y="266.9" width="1.9" height="57.4" fill="#6c6f6f"/>
<rect x="664.0" y="266.9" width="0.9" height="55.4" fill="#7b7e7e"/>
<rect x="664.9" y="266.9" width="0.8" height="53.4" fill="#525555"/>
<rect x="660.9" y="301.0" width="3.4" height="1.5" fill="#858888"/>
<rect x="660.9" y="302.5" width="3.4" height="1.2" fill="#4a4d4d"/>
<rect x="664.1" y="297.6" width="3.4" height="1.5" fill="#858888"/>
<rect x="664.1" y="299.1" width="3.4" height="1.2" fill="#4a4d4d"/>
<path d="M660.9,326.9 L661.1,319.1 Q661.7,313.1 663.7,312.1 Q665.7,313.1 666.3,318.1 L666.5,323.9 Z" fill="#7a7d7d"/>
<path d="M661.5,326.7 L661.5,321.6 Q661.7,317.5 663.9,316.9 Q666.1,316.5 666.1,319.7 L666.1,324.1 Z" fill="#8c8f8f"/>
<path d="M667.1,316.1 L667.1,324.1" stroke="#474a4a" stroke-width="1.2"/>
<rect x="668.2" y="262.9" width="1" height="57.4" fill="#474a4a"/>
<rect x="669.2" y="262.9" width="1.9" height="57.4" fill="#6c6f6f"/>
<rect x="670.9" y="262.9" width="0.9" height="55.4" fill="#7b7e7e"/>
<rect x="671.8" y="262.9" width="0.8" height="53.4" fill="#525555"/>
<rect x="667.8" y="277.6" width="3.4" height="1.5" fill="#858888"/>
<rect x="667.8" y="279.1" width="3.4" height="1.2" fill="#4a4d4d"/>
<rect x="671.0" y="289.3" width="3.4" height="1.5" fill="#858888"/>
<rect x="671.0" y="290.8" width="3.4" height="1.2" fill="#4a4d4d"/>
<path d="M667.8,322.9 L668.0,315.1 Q668.6,309.1 670.6,308.1 Q672.6,309.1 673.2,314.1 L673.4,319.9 Z" fill="#7a7d7d"/>
<path d="M668.4,322.7 L668.4,317.6 Q668.6,313.5 670.8,312.9 Q673.0,312.5 673.0,315.7 L673.0,320.1 Z" fill="#8c8f8f"/>
<path d="M674.0,312.1 L674.0,320.1" stroke="#474a4a" stroke-width="1.2"/>
<rect x="675.1" y="259.0" width="1" height="57.4" fill="#474a4a"/>
<rect x="676.1" y="259.0" width="1.9" height="57.4" fill="#6c6f6f"/>
<rect x="677.8" y="259.0" width="0.9" height="55.4" fill="#7b7e7e"/>
<rect x="678.7" y="259.0" width="0.8" height="53.4" fill="#525555"/>
<rect x="674.7" y="283.6" width="3.4" height="1.5" fill="#858888"/>
<rect x="674.7" y="285.1" width="3.4" height="1.2" fill="#4a4d4d"/>
<rect x="677.9" y="296.0" width="3.4" height="1.5" fill="#858888"/>
<rect x="677.9" y="297.5" width="3.4" height="1.2" fill="#4a4d4d"/>
<path d="M674.7,319.0 L674.9,311.2 Q675.5,305.2 677.5,304.2 Q679.5,305.2 680.1,310.2 L680.3,316.0 Z" fill="#7a7d7d"/>
<path d="M675.3,318.8 L675.3,313.7 Q675.5,309.6 677.7,309.0 Q679.9,308.6 679.9,311.8 L679.9,316.2 Z" fill="#8c8f8f"/>
<path d="M680.9,308.2 L680.9,316.2" stroke="#474a4a" stroke-width="1.2"/>
<rect x="682.0" y="255.1" width="1" height="57.4" fill="#474a4a"/>
<rect x="683.0" y="255.1" width="1.9" height="57.4" fill="#6c6f6f"/>
<rect x="684.7" y="255.1" width="0.9" height="55.4" fill="#7b7e7e"/>
<rect x="685.6" y="255.1" width="0.8" height="53.4" fill="#525555"/>
<rect x="681.6" y="286.9" width="3.4" height="1.5" fill="#858888"/>
<rect x="681.6" y="288.4" width="3.4" height="1.2" fill="#4a4d4d"/>
<rect x="684.8" y="271.2" width="3.4" height="1.5" fill="#858888"/>
<rect x="684.8" y="272.7" width="3.4" height="1.2" fill="#4a4d4d"/>
<path d="M681.6,315.0 L681.8,307.2 Q682.4,301.2 684.4,300.2 Q686.4,301.2 687.0,306.2 L687.2,312.0 Z" fill="#7a7d7d"/>
<path d="M682.2,314.8 L682.2,309.7 Q682.4,305.6 684.6,305.0 Q686.8,304.6 686.8,307.8 L686.8,312.2 Z" fill="#8c8f8f"/>
<path d="M687.8,304.2 L687.8,312.2" stroke="#474a4a" stroke-width="1.2"/>
<rect x="688.9" y="251.1" width="1" height="57.4" fill="#474a4a"/>
<rect x="689.9" y="251.1" width="1.9" height="57.4" fill="#6c6f6f"/>
<rect x="691.6" y="251.1" width="0.9" height="55.4" fill="#7b7e7e"/>
<rect x="692.5" y="251.1" width="0.8" height="53.4" fill="#525555"/>
<rect x="688.5" y="291.8" width="3.4" height="1.5" fill="#858888"/>
<rect x="688.5" y="293.3" width="3.4" height="1.2" fill="#4a4d4d"/>
<rect x="691.7" y="261.3" width="3.4" height="1.5" fill="#858888"/>
<rect x="691.7" y="262.8" width="3.4" height="1.2" fill="#4a4d4d"/>
<path d="M688.5,311.1 L688.7,303.3 Q689.3,297.3 691.3,296.3 Q693.3,297.3 693.9,302.3 L694.1,308.1 Z" fill="#7a7d7d"/>
<path d="M689.1,310.9 L689.1,305.8 Q689.3,301.7 691.5,301.1 Q693.7,300.7 693.7,303.9 L693.7,308.3 Z" fill="#8c8f8f"/>
<path d="M694.7,300.3 L694.7,308.3" stroke="#474a4a" stroke-width="1.2"/>
<rect x="695.8" y="247.2" width="1" height="57.4" fill="#474a4a"/>
<rect x="696.8" y="247.2" width="1.9" height="57.4" fill="#6c6f6f"/>
<rect x="698.5" y="247.2" width="0.9" height="55.4" fill="#7b7e7e"/>
<rect x="699.4" y="247.2" width="0.8" height="53.4" fill="#525555"/>
<rect x="695.4" y="268.0" width="3.4" height="1.5" fill="#858888"/>
<rect x="695.4" y="269.5" width="3.4" height="1.2" fill="#4a4d4d"/>
<rect x="698.6" y="280.0" width="3.4" height="1.5" fill="#858888"/>
<rect x="698.6" y="281.5" width="3.4" height="1.2" fill="#4a4d4d"/>
<path d="M695.4,307.2 L695.6,299.4 Q696.2,293.4 698.2,292.4 Q700.2,293.4 700.8,298.4 L701.0,304.2 Z" fill="#7a7d7d"/>
<path d="M696.0,307.0 L696.0,301.9 Q696.2,297.8 698.4,297.2 Q700.6,296.8 700.6,300.0 L700.6,304.4 Z" fill="#8c8f8f"/>
<path d="M701.6,296.4 L701.6,304.4" stroke="#474a4a" stroke-width="1.2"/>
<rect x="702.7" y="243.2" width="1" height="57.4" fill="#474a4a"/>
<rect x="703.7" y="243.2" width="1.9" height="57.4" fill="#6c6f6f"/>
<rect x="705.4" y="243.2" width="0.9" height="55.4" fill="#7b7e7e"/>
<rect x="706.3" y="243.2" width="0.8" height="53.4" fill="#525555"/>
<rect x="702.3" y="254.6" width="3.4" height="1.5" fill="#858888"/>
<rect x="702.3" y="256.1" width="3.4" height="1.2" fill="#4a4d4d"/>
<rect x="705.5" y="266.5" width="3.4" height="1.5" fill="#858888"/>
<rect x="705.5" y="268.0" width="3.4" height="1.2" fill="#4a4d4d"/>
<path d="M702.3,303.2 L702.5,295.4 Q703.1,289.4 705.1,288.4 Q707.1,289.4 707.7,294.4 L707.9,300.2 Z" fill="#7a7d7d"/>
<path d="M702.9,303.0 L702.9,297.9 Q703.1,293.8 705.3,293.2 Q707.5,292.8 707.5,296.0 L707.5,300.4 Z" fill="#8c8f8f"/>
<path d="M708.5,292.4 L708.5,300.4" stroke="#474a4a" stroke-width="1.2"/>
<rect x="709.6" y="239.3" width="1" height="57.4" fill="#474a4a"/>
<rect x="710.6" y="239.3" width="1.9" height="57.4" fill="#6c6f6f"/>
<rect x="712.3" y="239.3" width="0.9" height="55.4" fill="#7b7e7e"/>
<rect x="713.2" y="239.3" width="0.8" height="53.4" fill="#525555"/>
<rect x="709.2" y="246.7" width="3.4" height="1.5" fill="#858888"/>
<rect x="709.2" y="248.2" width="3.4" height="1.2" fill="#4a4d4d"/>
<rect x="712.4" y="268.9" width="3.4" height="1.5" fill="#858888"/>
<rect x="712.4" y="270.4" width="3.4" height="1.2" fill="#4a4d4d"/>
<path d="M709.2,299.3 L709.4,291.5 Q710.0,285.5 712.0,284.5 Q714.0,285.5 714.6,290.5 L714.8,296.3 Z" fill="#7a7d7d"/>
<path d="M709.8,299.1 L709.8,294.0 Q710.0,289.9 712.2,289.3 Q714.4,288.9 714.4,292.1 L714.4,296.5 Z" fill="#8c8f8f"/>
<path d="M715.4,288.5 L715.4,296.5" stroke="#474a4a" stroke-width="1.2"/>
<rect x="716.5" y="235.3" width="1" height="57.3" fill="#474a4a"/>
<rect x="717.5" y="235.3" width="1.9" height="57.3" fill="#6c6f6f"/>
<rect x="719.2" y="235.3" width="0.9" height="55.3" fill="#7b7e7e"/>
<rect x="720.1" y="235.3" width="0.8" height="53.3" fill="#525555"/>
<rect x="716.1" y="268.4" width="3.4" height="1.5" fill="#858888"/>
<rect x="716.1" y="269.9" width="3.4" height="1.2" fill="#4a4d4d"/>
<rect x="719.3" y="261.6" width="3.4" height="1.5" fill="#858888"/>
<rect x="719.3" y="263.1" width="3.4" height="1.2" fill="#4a4d4d"/>
<path d="M716.1,295.3 L716.3,287.5 Q716.9,281.5 718.9,280.5 Q720.9,281.5 721.5,286.5 L721.7,292.3 Z" fill="#7a7d7d"/>
<path d="M716.7,295.1 L716.7,290.0 Q716.9,285.9 719.1,285.3 Q721.3,284.9 721.3,288.1 L721.3,292.5 Z" fill="#8c8f8f"/>
<path d="M722.3,284.5 L722.3,292.5" stroke="#474a4a" stroke-width="1.2"/>
<rect x="723.4" y="231.4" width="1" height="56.8" fill="#474a4a"/>
<rect x="724.4" y="231.4" width="1.9" height="56.8" fill="#6c6f6f"/>
<rect x="726.1" y="231.4" width="0.9" height="54.8" fill="#7b7e7e"/>
<rect x="727.0" y="231.4" width="0.8" height="52.8" fill="#525555"/>
<rect x="723.0" y="267.9" width="3.4" height="1.5" fill="#858888"/>
<rect x="723.0" y="269.4" width="3.4" height="1.2" fill="#4a4d4d"/>
<rect x="726.2" y="248.3" width="3.4" height="1.5" fill="#858888"/>
<rect x="726.2" y="249.8" width="3.4" height="1.2" fill="#4a4d4d"/>
<path d="M723.0,290.8 L723.2,283.0 Q723.8,277.0 725.8,276.0 Q727.8,277.0 728.4,282.0 L728.6,287.8 Z" fill="#7a7d7d"/>
<path d="M723.6,290.6 L723.6,285.5 Q723.8,281.4 726.0,280.8 Q728.2,280.4 728.2,283.6 L728.2,288.0 Z" fill="#8c8f8f"/>
<path d="M729.2,280.0 L729.2,288.0" stroke="#474a4a" stroke-width="1.2"/>
<rect x="730.3" y="227.5" width="1" height="56.4" fill="#474a4a"/>
<rect x="731.3" y="227.5" width="1.9" height="56.4" fill="#6c6f6f"/>
<rect x="733.0" y="227.5" width="0.9" height="54.4" fill="#7b7e7e"/>
<rect x="733.9" y="227.5" width="0.8" height="52.4" fill="#525555"/>
<rect x="729.9" y="257.3" width="3.4" height="1.5" fill="#858888"/>
<rect x="729.9" y="258.8" width="3.4" height="1.2" fill="#4a4d4d"/>
<rect x="733.1" y="253.9" width="3.4" height="1.5" fill="#858888"/>
<rect x="733.1" y="255.4" width="3.4" height="1.2" fill="#4a4d4d"/>
<path d="M729.9,286.4 L730.1,278.6 Q730.7,272.6 732.7,271.6 Q734.7,272.6 735.3,277.6 L735.5,283.4 Z" fill="#7a7d7d"/>
<path d="M730.5,286.2 L730.5,281.1 Q730.7,277.0 732.9,276.4 Q735.1,276.0 735.1,279.2 L735.1,283.6 Z" fill="#8c8f8f"/>
<path d="M736.1,275.6 L736.1,283.6" stroke="#474a4a" stroke-width="1.2"/>
<rect x="737.2" y="223.5" width="1" height="55.9" fill="#474a4a"/>
<rect x="738.2" y="223.5" width="1.9" height="55.9" fill="#6c6f6f"/>
<rect x="739.9" y="223.5" width="0.9" height="53.9" fill="#7b7e7e"/>
<rect x="740.8" y="223.5" width="0.8" height="51.9" fill="#525555"/>
<rect x="736.8" y="249.2" width="3.4" height="1.5" fill="#858888"/>
<rect x="736.8" y="250.7" width="3.4" height="1.2" fill="#4a4d4d"/>
<rect x="740.0" y="245.0" width="3.4" height="1.5" fill="#858888"/>
<rect x="740.0" y="246.5" width="3.4" height="1.2" fill="#4a4d4d"/>
<path d="M736.8,282.0 L737.0,274.2 Q737.6,268.2 739.6,267.2 Q741.6,268.2 742.2,273.2 L742.4,279.0 Z" fill="#7a7d7d"/>
<path d="M737.4,281.8 L737.4,276.7 Q737.6,272.6 739.8,272.0 Q742.0,271.6 742.0,274.8 L742.0,279.2 Z" fill="#8c8f8f"/>
<path d="M743.0,271.2 L743.0,279.2" stroke="#474a4a" stroke-width="1.2"/>
<rect x="744.1" y="219.6" width="1" height="55.4" fill="#474a4a"/>
<rect x="745.1" y="219.6" width="1.9" height="55.4" fill="#6c6f6f"/>
<rect x="746.8" y="219.6" width="0.9" height="53.4" fill="#7b7e7e"/>
<rect x="747.7" y="219.6" width="0.8" height="51.4" fill="#525555"/>
<rect x="743.7" y="253.6" width="3.4" height="1.5" fill="#858888"/>
<rect x="743.7" y="255.1" width="3.4" height="1.2" fill="#4a4d4d"/>
<rect x="746.9" y="257.1" width="3.4" height="1.5" fill="#858888"/>
<rect x="746.9" y="258.6" width="3.4" height="1.2" fill="#4a4d4d"/>
<path d="M743.7,277.6 L743.9,269.8 Q744.5,263.8 746.5,262.8 Q748.5,263.8 749.1,268.8 L749.3,274.6 Z" fill="#7a7d7d"/>
<path d="M744.3,277.4 L744.3,272.3 Q744.5,268.2 746.7,267.6 Q748.9,267.2 748.9,270.4 L748.9,274.8 Z" fill="#8c8f8f"/>
<path d="M749.9,266.8 L749.9,274.8" stroke="#474a4a" stroke-width="1.2"/>
<rect x="751.0" y="215.6" width="1" height="54.9" fill="#474a4a"/>
<rect x="752.0" y="215.6" width="1.9" height="54.9" fill="#6c6f6f"/>
<rect x="753.7" y="215.6" width="0.9" height="52.9" fill="#7b7e7e"/>
<rect x="754.6" y="215.6" width="0.8" height="50.9" fill="#525555"/>
<rect x="750.6" y="237.2" width="3.4" height="1.5" fill="#858888"/>
<rect x="750.6" y="238.7" width="3.4" height="1.2" fill="#4a4d4d"/>
<rect x="753.8" y="243.5" width="3.4" height="1.5" fill="#858888"/>
<rect x="753.8" y="245.0" width="3.4" height="1.2" fill="#4a4d4d"/>
<path d="M750.6,273.1 L750.8,265.3 Q751.4,259.3 753.4,258.3 Q755.4,259.3 756.0,264.3 L756.2,270.1 Z" fill="#7a7d7d"/>
<path d="M751.2,272.9 L751.2,267.8 Q751.4,263.7 753.6,263.1 Q755.8,262.7 755.8,265.9 L755.8,270.3 Z" fill="#8c8f8f"/>
<path d="M756.8,262.3 L756.8,270.3" stroke="#474a4a" stroke-width="1.2"/>
<path d="M503.0,410.4 L530.0,397.9 L578.0,373.4 L638.0,340.0 L716.0,295.4 L775.5,257.2" fill="none" stroke="#3c3f3f" stroke-width="1.3"/>
<path d="M503.0,412.5 L530.0,400.0 L578.0,375.5 L638.0,342.1 L716.0,297.5 L775.5,259.3" fill="none" stroke="#6d7070" stroke-width="3"/>
<path d="M503.0,414.5 L530.0,402.0 L578.0,377.5 L638.0,344.1 L716.0,299.5 L775.5,261.3" fill="none" stroke="#36393a" stroke-width="1.4" stroke-dasharray="22 9"/>
<path d="M503.0,416.6 L530.0,404.1 L578.0,379.6 L638.0,346.2 L716.0,301.6 L775.5,263.4" fill="none" stroke="#7b7e7e" stroke-width="3"/>
<path d="M503.0,418.6 L530.0,406.1 L578.0,381.6 L638.0,348.2 L716.0,303.6 L775.5,265.4" fill="none" stroke="#4a4d4d" stroke-width="1.6"/>
<rect x="518.2" y="401.9" width="3.6" height="5" fill="#999c9c" stroke="#505353" stroke-width="0.5"/>
<rect x="542.7" y="389.9" width="3.6" height="5" fill="#999c9c" stroke="#505353" stroke-width="0.5"/>
<rect x="568.7" y="376.6" width="3.6" height="5" fill="#999c9c" stroke="#505353" stroke-width="0.5"/>
<rect x="606.2" y="356.1" width="3.6" height="5" fill="#999c9c" stroke="#505353" stroke-width="0.5"/>
<rect x="628.2" y="343.9" width="3.6" height="5" fill="#999c9c" stroke="#505353" stroke-width="0.5"/>
<rect x="662.2" y="324.5" width="3.6" height="5" fill="#999c9c" stroke="#505353" stroke-width="0.5"/>
<rect x="688.2" y="309.7" width="3.6" height="5" fill="#999c9c" stroke="#505353" stroke-width="0.5"/>
<rect x="716.2" y="293.5" width="3.6" height="5" fill="#999c9c" stroke="#505353" stroke-width="0.5"/>
<rect x="743.2" y="276.2" width="3.6" height="5" fill="#999c9c" stroke="#505353" stroke-width="0.5"/>
<path d="M513.6,351.0 L512.6,357.0 L511.8,375.0 L508.0,392.0 L504.6,410.0 L505.0,419.0" fill="none" stroke="#676a6a" stroke-width="7"/>
<path d="M509,392 L513,394 L509.6,414 L503,417 Z" fill="#484b4b"/>
<path d="M512.0,350.0 L510.8,357.0 L510.0,375.0 L506.2,391.0 L502.6,410.0 L503.0,418.0" fill="none" stroke="#828585" stroke-width="1.6"/>
<path d="M517.2,352.0 L516.2,357.0 L515.4,375.0 L512.0,392.0 L508.6,410.0 L508.4,416.0" fill="none" stroke="#434646" stroke-width="1.3"/>
<path d="M756.4,210.0 L756.4,232.0 L759.0,238.0" fill="none" stroke="#747777" stroke-width="3.4"/>
<path d="M756,234 L758.6,234 L767.4,246 L767.4,256 L771.6,263 L756,266 Z" fill="#585b5b"/>
<path d="M758.4,233 L767,245.6 L767,255.6" stroke="#777a7a" stroke-width="1.4" fill="none"/>
<path d="M757.6,241 V258 M761,244.6 V259 M764.2,248 V258" stroke="#7f8282" stroke-width="1" fill="none"/>
<path d="M759.2,243 V258 M762.6,247 V258" stroke="#414444" stroke-width="0.9" fill="none"/>
<path d="M511.5,351.1 L757.0,210.8" fill="none" stroke="#6f7272" stroke-width="5"/>
<path d="M511.5,350.1 L757.0,209.8" fill="none" stroke="#8c8f8f" stroke-width="1.1"/>
<path d="M513.5,353.9 L757.0,213.6" fill="none" stroke="#454848" stroke-width="1"/>
</g>
<path d="M690,318.6 L693,319.4 L708,310.6 L710,306.8 Z" fill="#5d6060"/>
<path d="M566,388 L569,388.6 L586,379.4 L588,376.2 Z" fill="#5d6060"/>
</g><g id="smalls" filter="url(#soft)">
<path d="M458.6,54.6 L459.4,57 Q461.4,58.2 464.4,57 L465.4,54.6 Z" fill="#5a5d5d"/>
<path d="M452.2,42.4 L460,37.6 Q463.5,35.4 467,37.6 L476.2,43.8 Q479.2,46.6 475.6,49.2 L465.4,55.2 Q461.4,57.4 457.4,55.2 L447.8,49.4 Q444.4,46.8 448.4,44.6 Z" fill="#656868"/>
<path d="M447.4,48.8 L457.4,54.6 Q461.4,56.6 465.4,54.6 L475.6,48.6" fill="none" stroke="#808383" stroke-width="1.2"/>
<path d="M533,225 Q536.4,223.2 539.8,225 L565.4,239.4 Q568,241.4 565.4,243.4 L540.6,256.6 Q537.2,258.2 534,256.4 L513.2,238.8 Q510.6,236.6 513.6,234.8 Z" fill="#a9acae"/>
<path d="M513.2,238.8 L534,256.4 Q537.2,258.2 540.6,256.6 L565.4,243.4" fill="none" stroke="#8a8d90" stroke-width="1.6"/>
<path d="M513.6,234.8 L533,225 Q536.4,223.2 539.8,225 L565.4,239.4" fill="none" stroke="#c6c8ca" stroke-width="1.2"/>
<path d="M535,231.4 Q537.4,230.4 539.6,231.6 L556.4,239 Q558,240 556.4,241 L539.4,250.6 Q537.4,251.6 535.4,250.4 L520.8,240.6 Q519.4,239.4 521,238.4 Z" fill="#565963"/>
<path d="M521,238.4 L535,231.4 Q537.4,230.4 539.6,231.6 L556.4,239" fill="none" stroke="#7f828a" stroke-width="2"/>
<path d="M530.6,241 L543.4,235.6 L545.6,237 L532.8,242.6 Z" fill="#8b8e96"/>
<rect x="547.6" y="251.6" width="2.4" height="2" fill="#8a8d90"/><rect x="556.6" y="246.8" width="2.4" height="2" fill="#8a8d90"/>
<path d="M511.4,275 L511.8,278.6 L538,300 Q540,301.2 542,300.4 L552,296.8 L557,298 L561.8,295 L561.2,290.6 L570,283 L569.8,280 Z" fill="#4d5052"/>
<path d="M532.6,261.6 Q535.4,260.2 538.4,261.4 L569.4,277.6 Q572,279.4 569.8,281.2 L561,288.6 L561.6,293 L557,296 L552,294.8 L542,298.6 Q540,299.2 538,298 L512,278.4 Q510,276.4 511.6,274.2 Z" fill="#6d7072"/>
<path d="M511.6,274.2 L532.6,261.6 Q535.4,260.2 538.4,261.4 L569.4,277.6" fill="none" stroke="#8d9092" stroke-width="1.1"/>
<path d="M512.6,278.6 L538,297.4 Q540,298.4 542,297.8 L552,294" fill="none" stroke="#85888a" stroke-width="1"/>
<path d="M519.4,275.4 L536.6,265.8 Q538.4,265 540,265.8 L544.6,268 Q545.6,269 544.4,269.8 L526.6,280.4 Q525,281 523.6,280.2 L519.4,277.2 Q518.4,276.2 519.4,275.4 Z" fill="#fff"/>
<path d="M519.4,275.4 L536.6,265.8 Q538.4,265 540,265.8 L544.6,268" fill="none" stroke="#505355" stroke-width="1.1"/>
<path d="M529.4,282.6 L547,272 L564.6,280.6 L546,293 Z" fill="#5d6062"/>
<path d="M534,282.4 L546.4,275.4 M538,285 L551,277.6 M542.6,288 L556,280" stroke="#7c7f81" stroke-width="1.1" fill="none"/>
<path d="M549,275.4 L557,279.4 L553,282 L545.4,277.8 Z" fill="#787b7d"/>
<path d="M547.8,284.6 L551,283 L552.4,283.8 L549.2,285.6 Z" fill="#f2f2f2"/>
<path d="M550.6,289.6 L558.4,285.4 L560.4,286.8 L552.6,291.2 Z" fill="#8e9193" stroke="#4c4f51" stroke-width="0.6"/>
<path d="M553,294.2 L560,290.6 L561.4,293 L557,295.8 Z" fill="#7c7f81"/>
<path d="M483.4,334 L491.2,343.4 Q492.8,344.8 494.8,343.8 L506.6,335.6 L506,333 Z" fill="#464949"/>
<path d="M491.2,343.4 Q492.8,344.8 494.8,343.8 L506.6,335.6" fill="none" stroke="#6c6f71" stroke-width="1"/>
<path d="M479.4,329 L488.6,322.8 Q492,321 495.6,322.4 L509.6,328 Q512.6,329.8 510,332 L500,339 Q497,340.8 494,339.4 L480,333 Q477.4,331 479.4,329 Z" fill="#5f6264"/>
<path d="M479.4,329 L488.6,322.8 Q492,321 495.6,322.4 L509.6,328" fill="none" stroke="#85888a" stroke-width="1.1"/>
<path d="M480,333 L494,339.4 Q497,340.8 500,339 L510,332" fill="none" stroke="#7b7e80" stroke-width="1.2"/>
<path d="M484,330 L491.4,325 Q492.6,324.4 494,325 L504.6,329.4 L497.2,335.6 Q496,336.2 494.8,335.6 Z" fill="#747779"/>
<path d="M486.4,329.4 L492,325.8 L501.6,329.6 L496.4,333.2 Z" fill="#3c3f42"/>
<path d="M489.6,327.4 L492.2,325.8 L501.6,329.6 L499.4,331.2 Z" fill="#63666a"/>
<path d="M481.2,360 L490.6,354 Q492.6,352.8 494.6,353.4 L502.6,355.6 Q504.4,356.4 503,357.8 L501,361.6 L489,366 Q487.6,366.4 486.4,365.6 L482,362.8 Q480.4,361.4 481.2,360 Z" fill="#3e4350"/>
<path d="M482,362.8 L486.4,365.6 Q487.6,366.4 489,366 L501,361.6" fill="none" stroke="#5d6270" stroke-width="1"/>
</g><g id="labels" filter="url(#soft2)">
<text class="lbl" x="353.6" y="93.7">1</text>
<path class="ld" d="M353.6,97 V119"/>
<text class="lbl" x="184.4" y="93.7">2</text>
<path class="ld" d="M184.4,97 V118"/>
<text class="lbl" x="639.6" y="386.2">3</text>
<path class="ld" d="M639.6,349 V370.4"/>
<text class="lbl" x="249.6" y="383.6">4</text>
<path class="ld" d="M249.6,337.4 V366.4"/>
<text class="lbl" x="448.6" y="337.0">5</text>
<path class="ld" d="M453.8,331 H475.6"/>
<text class="lbl" x="448.6" y="367.0">6</text>
<path class="ld" d="M453.8,361.2 H478"/>
<text class="lbl" x="507.8" y="51.8">7</text>
<path class="ld" d="M480.4,45.6 H502.4"/>
<text class="lbl" x="597.8" y="248.4">8</text>
<path class="ld" d="M570.2,242.4 H592.4"/>
<text class="lbl" x="597.8" y="286.8">9</text>
<path class="ld" d="M575.4,280.6 H592.4"/>
<path class="ld" d="M462.4,60.2 V78.6"/>
<path d="M462.4,99 V128.4" stroke="#fff" stroke-width="3" fill="none"/><path d="M462.4,99 V128" stroke="#111" stroke-width="1.1" fill="none"/>
<circle cx="462.4" cy="89.4" r="11.7" fill="#fff"/>
<circle class="circ" cx="462.4" cy="89.4" r="10.2"/>
<text class="cl" x="462.2" y="94.0" textLength="15.2" lengthAdjust="spacingAndGlyphs">12</text>
<path d="M76.6,209.6 L85.2,240.6" stroke="#fff" stroke-width="3" fill="none"/><path d="M73.8,199.6 L85,240" stroke="#111" stroke-width="1.1" fill="none"/>
<circle cx="70.0" cy="190.4" r="11.7" fill="#fff"/>
<circle class="circ" cx="70.0" cy="190.4" r="10.2"/>
<text class="cl" x="69.8" y="195.0" textLength="15.2" lengthAdjust="spacingAndGlyphs">13</text>
<path class="ld" d="M170.4,226.4 V244"/>
<path class="ld" d="M170.4,270 V289.6"/>
<circle cx="170.4" cy="215.8" r="11.7" fill="#fff"/>
<circle class="circ" cx="170.4" cy="215.8" r="10.2"/>
<text class="cl" x="169.9" y="220.4" textLength="14.0" lengthAdjust="spacingAndGlyphs">11</text>
<circle cx="170.4" cy="300.0" r="11.7" fill="#fff"/>
<circle class="circ" cx="170.4" cy="300.0" r="10.2"/>
<text class="cl" x="170.2" y="304.6" textLength="15.2" lengthAdjust="spacingAndGlyphs">10</text>
<path class="ld" d="M635.6,259 L651.4,267.6"/>
<circle cx="625.9" cy="253.2" r="11.7" fill="#fff"/>
<circle class="circ" cx="625.9" cy="253.2" r="10.2"/>
<text class="cl" x="625.4" y="257.8" textLength="14.0" lengthAdjust="spacingAndGlyphs">11</text>
<path class="ld" d="M717,305 L733.4,313.8"/>
<circle cx="743.0" cy="320.0" r="11.7" fill="#fff"/>
<circle class="circ" cx="743.0" cy="320.0" r="10.2"/>
<text class="cl" x="742.8" y="324.6" textLength="15.2" lengthAdjust="spacingAndGlyphs">10</text>
<circle cx="450.8" cy="224.6" r="1.9" fill="#111"/><circle cx="450.8" cy="230.6" r="1.9" fill="#111"/>
<path class="ld" d="M450.8,224.6 L513.6,230.8"/>
<path class="ld" d="M450.8,230.6 L461,235.6"/>
<path class="ld" d="M475,243.8 L516.4,265.6"/>
</g><!-- ===== LEGEND ===== -->
<defs>
<linearGradient id="mtl" x1="0" y1="0" x2="1" y2="1"><stop offset="0" stop-color="#d2d5d7"/><stop offset="0.55" stop-color="#b4b7b9"/><stop offset="1" stop-color="#9a9da0"/></linearGradient>
<linearGradient id="mtlh" x1="0" y1="0" x2="1" y2="0"><stop offset="0" stop-color="#9c9fa2"/><stop offset="0.35" stop-color="#c3c6c8"/><stop offset="1" stop-color="#8f9295"/></linearGradient>
<radialGradient id="dome" cx="0.4" cy="0.7" r="0.8"><stop offset="0" stop-color="#e0e2e3"/><stop offset="0.6" stop-color="#bcbfc1"/><stop offset="1" stop-color="#a0a3a6"/></radialGradient>
<linearGradient id="domeV" x1="0" y1="0" x2="0.25" y2="1"><stop offset="0" stop-color="#9b9ea1"/><stop offset="0.45" stop-color="#b7babc"/><stop offset="0.85" stop-color="#dcdedf"/><stop offset="1" stop-color="#c2c5c7"/></linearGradient>
<linearGradient id="flg" x1="0" y1="0" x2="1" y2="1"><stop offset="0" stop-color="#a2a5a8"/><stop offset="0.5" stop-color="#b4b7b9"/><stop offset="1" stop-color="#c8cacc"/></linearGradient>
</defs>
<g id="legend">
<g fill="none" stroke="#2a2a2a" stroke-width="0.9">
<rect x="441.5" y="490.5" width="350.3" height="47.7"/>
<path d="M511.4,490.5 V538.2 M581.5,490.5 V538.2 M651.5,490.5 V538.2 M721.6,490.5 V538.2"/>
</g>
<g filter="url(#soft3)">
<!-- nut 13 -->
<ellipse cx="483.5" cy="523.4" rx="23.6" ry="12" fill="#85888b"/>
<ellipse cx="483.5" cy="520.6" rx="23.6" ry="12.2" fill="url(#flg)"/>
<ellipse cx="483.5" cy="520.2" rx="20.6" ry="10.2" fill="none" stroke="#cfd1d3" stroke-width="1.1" opacity="0.8"/>
<path d="M490,512 L497,516 L494,524 L486,524 Z" fill="#979a9d" opacity="0.8"/>
<path d="M472,503 L478,507 L478.2,523.6 L472.2,516.8 Z" fill="#adb0b2"/>
<path d="M478,507 L487.8,506.4 L488.2,522.6 L478.2,523.4 Z" fill="#c9cccd"/>
<path d="M487.8,506.4 L491.8,501 L492.2,515.4 L488.2,522.6 Z" fill="#9da0a3"/>
<path d="M472,503 L476.6,498.2 L485.4,497.2 L491.8,501 L487.8,506.4 L478,507 Z" fill="#b9bcbe" stroke="#d6d8da" stroke-width="0.8"/>
<ellipse cx="482" cy="502.4" rx="3.2" ry="2.4" fill="#74777b"/>
<path d="M479.4,503 Q482,505 484.8,503" fill="none" stroke="#a5a8ab" stroke-width="0.8"/>
<path d="M471.8,516.8 L478,524.2 L488.4,523.2 L492.6,515.4" fill="none" stroke="#84878a" stroke-width="1.1"/>
<!-- bolt 12 -->
<path d="M547,513 H560 V531 Q560,534.6 553.5,534.6 Q547,534.6 547,531 Z" fill="url(#mtlh)"/>
<path d="M547,517.6 H560 M547,520.2 H560 M547,522.8 H560 M547,525.4 H560 M547,528 H560 M547,530.6 H560" stroke="#7f8285" stroke-width="1"/>
<path d="M546.6,513.4 Q553.5,516.6 560.4,513.4 L560.4,516 Q553.5,519 546.6,516 Z" fill="#777a7d"/>
<ellipse cx="553.5" cy="509.6" rx="14.8" ry="6.4" fill="#84878a"/>
<ellipse cx="553.5" cy="507.8" rx="14.8" ry="6.4" fill="#b3b6b8"/>
<path d="M541.2,506.4 Q540.6,495.2 553.5,495 Q566.4,495.2 565.8,506.4 Q565,511.6 553.5,511.6 Q542,511.6 541.2,506.4 Z" fill="url(#domeV)"/>
<path d="M541.2,506.4 Q542,511.6 553.5,511.6 Q565,511.6 565.8,506.4" fill="none" stroke="#8e9194" stroke-width="0.8"/>
<path d="M548.6,499.6 L551.6,498.6 L552.6,496.4 L555,498.2 L558.6,498.2 L557,500.4 L558,502.8 L554.8,502 L552.2,503.6 L552,501.2 Z" fill="#6d7074"/>
<!-- screw 11 -->
<path d="M618,514 H628 V529 L623,535.4 L618,529 Z" fill="url(#mtlh)"/>
<path d="M618,519 L628,521 M618,522.4 L628,524.4 M618,525.8 L628,527.8" stroke="#7b7e81" stroke-width="1"/>
<ellipse cx="623" cy="507.6" rx="17.2" ry="9" fill="#74777a"/>
<ellipse cx="623" cy="505.4" rx="17.2" ry="9" fill="#9ea1a4"/>
<ellipse cx="623" cy="505" rx="15.6" ry="7.8" fill="none" stroke="#b7babc" stroke-width="1"/>
<ellipse cx="623" cy="504.2" rx="9.6" ry="6.2" fill="#85888b"/>
<ellipse cx="623" cy="501.8" rx="9" ry="7" fill="url(#domeV)"/>
<path d="M619,498.8 L621.6,497.6 L622.6,496 L624.4,497.6 L627,497.8 L625.6,499.6 L626.2,501.2 L623.6,500.8 L621.6,502 L621.2,500.2 Z" fill="#6b6e72"/>
<!-- clip 10 -->
<path d="M685,518 L707,514 L707,527 Q706,536.4 696,536.4 Q687,536.4 686,528 Z" fill="#999c9f"/>
<path d="M689,520 V532 M692.2,521 V534" stroke="#777a7d" stroke-width="1.1"/>
<path d="M698,522 Q704,524 706,518" stroke="#b5b8ba" stroke-width="1.2" fill="none"/>
<path d="M674.6,512.6 L692.6,522.8 L717.6,508 L717.6,506.4 L692.6,520.6 L674.6,510.6 Z" fill="#85888b"/>
<path d="M675.4,509 L696.6,496 Q698,495.2 699.6,496 L717,505.4 Q718.6,506.6 717,507.6 L694.4,521 Q692.8,521.8 691.4,521 L675.4,511.8 Q673.6,510.4 675.4,509 Z" fill="#aaadaf"/>
<path d="M675.4,509 L696.6,496 Q698,495.2 699.6,496 L717,505.4" fill="none" stroke="#c4c7c9" stroke-width="0.8"/>
<path d="M689.6,509.6 L702.6,507.2 M693,512.4 L699.4,504.4" stroke="#55585c" stroke-width="1.5" fill="none" stroke-linecap="round"/>
<path d="M694.4,507.4 L697.6,506 L697,508.6 Z" fill="#e8e9ea"/>
</g>
<!-- arrow -->
<path d="M728.1,515.5 L737.1,511.3 L767.6,527.6 L786.6,517.1 L786.6,523.4 L767.6,534.5 L737.1,517.6 L728.1,521.8 Z" fill="#000"/>
<path d="M727.6,495 L765.5,495 L756.5,500.2 L786.6,517.1 L767.6,527.6 L737.1,511.3 L728.1,515.5 Z" fill="#fff" stroke="#000" stroke-width="1.3"/>
<path d="M765.5,495 L756.5,500.2 L762.6,503.4 L765.5,501.6 Z" fill="#000" stroke="#000" stroke-width="0.6"/>
<g filter="url(#soft2)">
<text class="lg" x="445.2" y="507.4" textLength="20.4" lengthAdjust="spacingAndGlyphs">13</text>
<text class="lg" x="515.6" y="507.4" textLength="20.2" lengthAdjust="spacingAndGlyphs">12</text>
<text class="lg" x="585.4" y="507.4" textLength="18.4" lengthAdjust="spacingAndGlyphs">11</text>
<text class="lg" x="655.6" y="507.4" textLength="20.2" lengthAdjust="spacingAndGlyphs">10</text>
<text class="num" x="738.2" y="552.6">497187</text>
</g>
</g>

</svg>
</body>
</html>
